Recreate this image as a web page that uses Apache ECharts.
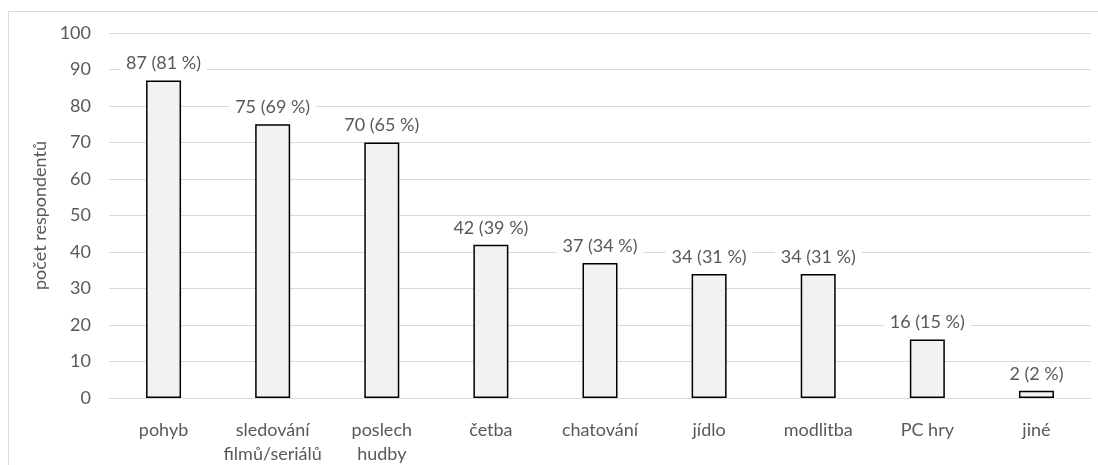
<!DOCTYPE html>
<html>
<head>
<meta charset="utf-8">
<script src="https://cdn.jsdelivr.net/npm/echarts@6/dist/echarts.min.js"></script>
<style>
  html, body { margin: 0; padding: 0; background: #fff; }
  #frame { position: absolute; left: 8px; top: 11px; width: 1100px; height: 470px; border: 1px solid #d9d9d9; box-sizing: border-box; }
  #chart { width: 1098px; height: 465px; }
</style>
</head>
<body>
<div id="frame"></div>
<div id="chart"></div>
<script>
// Aktivity respondentů
const categories = ['pohyb', 'sledování\nfilmů/seriálů', 'poslech\nhudby', 'četba', 'chatování', 'jídlo', 'modlitba', 'PC hry', 'jiné'];
const counts = [87, 75, 70, 42, 37, 34, 34, 16, 2];
const percents = [81, 69, 65, 39, 34, 31, 31, 15, 2];
const yTicks = { min: 0, max: 100, interval: 10 };

const font = 'Lato, "Open Sans", sans-serif';
const textColor = '#595959';
const fontSize = 18;

const chart = echarts.init(document.getElementById('chart'), null, { renderer: 'canvas' });
chart.setOption({
  animation: false,
  grid: { left: 109, right: 7, top: 33, bottom: 67, containLabel: false, outerBoundsMode: 'none' },
  xAxis: {
    type: 'category',
    data: categories,
    axisLine: { lineStyle: { color: '#d9d9d9', width: 1 } },
    axisTick: { show: false },
    axisLabel: { color: textColor, fontFamily: font, fontSize: fontSize, margin: 20, lineHeight: 24, interval: 0 }
  },
  yAxis: {
    type: 'value',
    min: yTicks.min, max: yTicks.max, interval: yTicks.interval,
    name: 'počet respondentů',
    nameLocation: 'middle',
    nameGap: 52,
    nameTextStyle: { color: textColor, fontFamily: font, fontSize: fontSize },
    axisLine: { show: false },
    axisTick: { show: false },
    axisLabel: { color: textColor, fontFamily: font, fontSize: fontSize, margin: 18 },
    splitLine: { lineStyle: { color: '#d9d9d9', width: 1 } }
  },
  series: [{
    type: 'bar',
    data: counts,
    barWidth: 35,
    itemStyle: { color: '#f2f2f2', borderColor: '#000', borderWidth: 1.5 },
    label: {
      show: true,
      position: 'top',
      distance: 7,
      color: textColor,
      fontFamily: font,
      fontSize: fontSize,
      backgroundColor: '#fff',
      padding: [1, 6],
      formatter: p => p.value + ' (' + percents[p.dataIndex] + ' %)'
    }
  }]
});
</script>
</body>
</html>
